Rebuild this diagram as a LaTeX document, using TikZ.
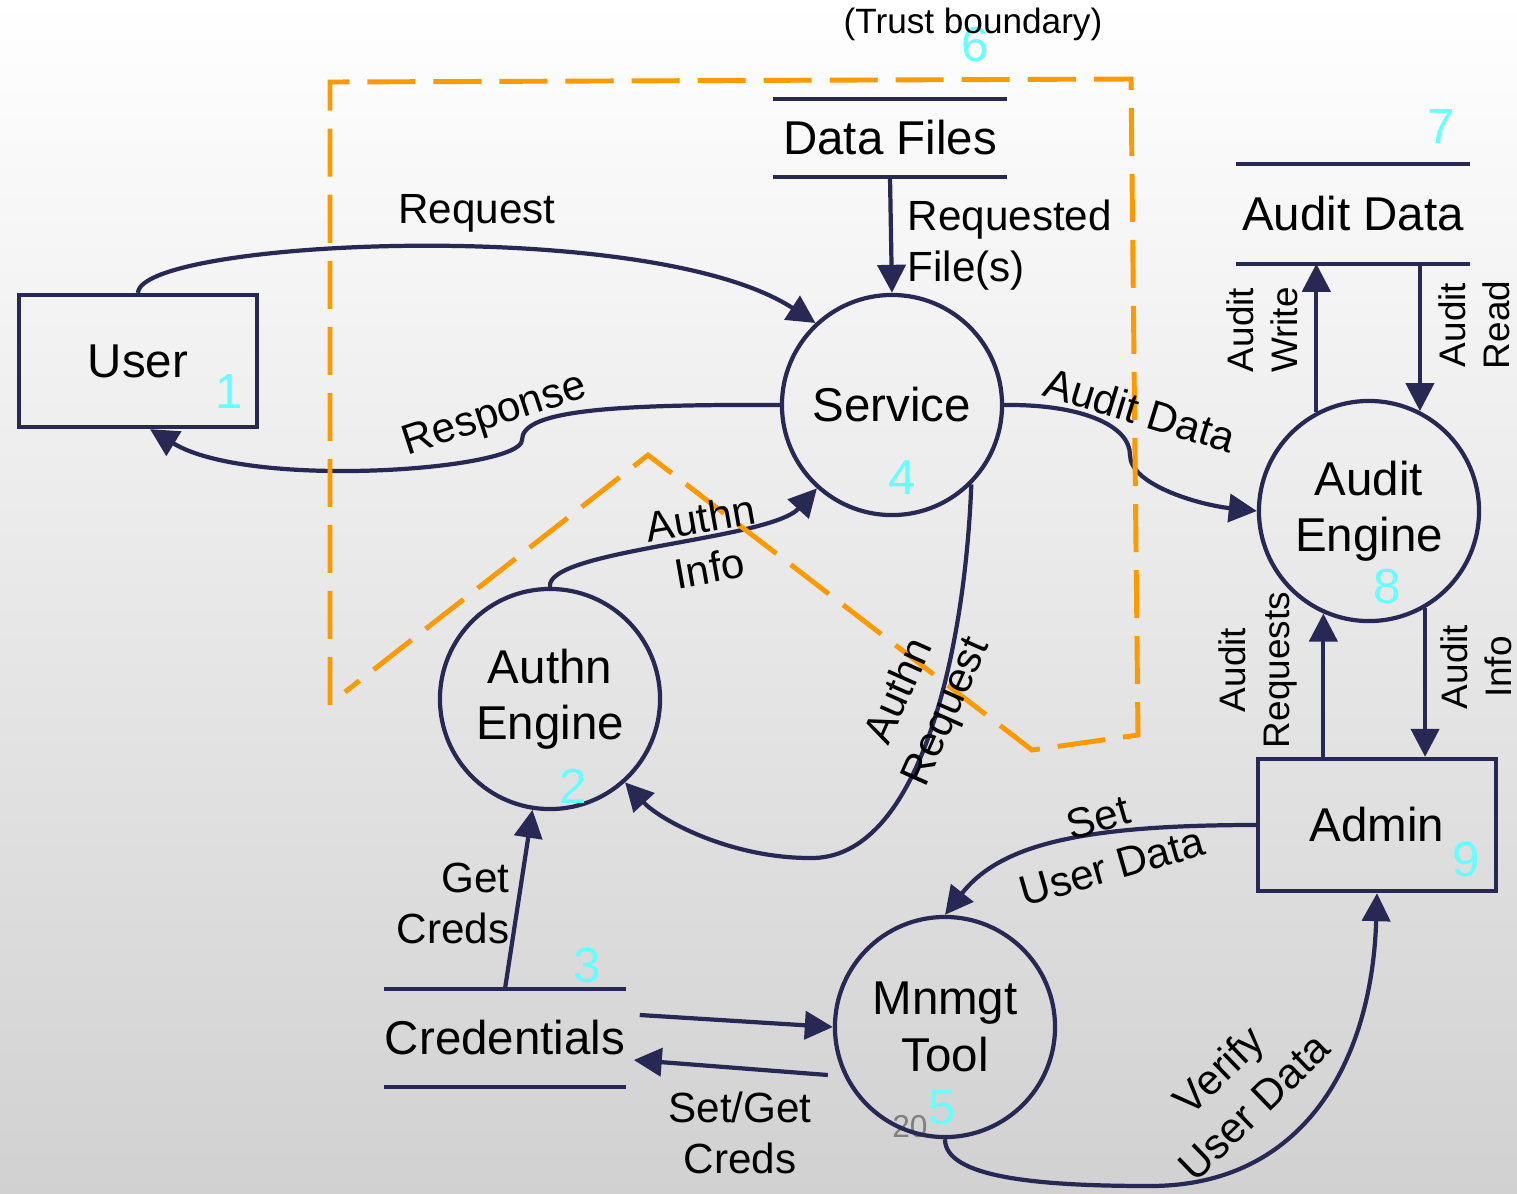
\documentclass[tikz,border=0pt]{standalone}
\usepackage{fontspec}
\setmainfont{Liberation Sans}
\usetikzlibrary{arrows.meta}

\definecolor{flowblue}{RGB}{39,41,84}
\definecolor{trustorange}{RGB}{255,153,0}
\definecolor{idcyan}{RGB}{102,255,255}

\tikzset{
  proc/.style={circle, draw=flowblue, line width=1.2pt, minimum size=2.2cm, inner sep=0pt,
    align=center, font=\fontsize{13.5}{16}\selectfont},
  extent/.style={rectangle, draw=flowblue, line width=1.2pt, minimum width=2.38cm,
    minimum height=1.32cm, font=\fontsize{13.5}{16}\selectfont},
  store/.style={minimum width=2.33cm, inner sep=0pt, font=\fontsize{13.5}{16}\selectfont},
  flow/.style={draw=flowblue, line width=1.2pt, -{Triangle[length=0.28cm,width=0.28cm]}},
  lbl/.style={font=\fontsize{12}{14.5}\selectfont, align=center, inner sep=0pt},
  sidelbl/.style={font=\fontsize{10.5}{12.5}\selectfont, align=center, rotate=90, inner sep=0pt},
  num/.style={text=idcyan, font=\fontsize{14}{16}\selectfont, inner sep=0pt},
  boundary/.style={draw=trustorange, line width=1.4pt, dash pattern=on 0.48cm off 0.18cm},
}

\begin{document}
\begin{tikzpicture}[x=0.01cm, y=-0.01cm]
    % backdrop
    \shade[top color=white, middle color=black!5, bottom color=black!18] (0,0) rectangle (1517,1193);
    \useasboundingbox (0,0) rectangle (1517,1193);
    \node[text=black!50, font=\fontsize{9}{10}\selectfont] (slide) at (910,1127) {20};

    % entities, processes and stores
    \node[extent] (user) at (138,361) {User};
    \node[extent] (admin) at (1377,825) {Admin};
    \node[proc] (serv) at (892,405) {Service};
    \node[proc] (auth) at (550,699) {Authn\\Engine};
    \node[proc] (mnt) at (945,1027) {Mnmgt\\Tool};
    \node[proc] (aeng) at (1369,511) {Audit\\Engine};
    \node[store, minimum height=0.76cm] (files) at (890,138) {Data Files};
    \node[store, minimum height=0.98cm] (adata) at (1353,214) {Audit Data};
    \node[store, minimum height=0.97cm] (creds) at (505,1038) {Credentials};
    \foreach \s in {files,adata,creds}{
        \draw[flowblue, line width=1.2pt] (\s.north west) -- (\s.north east)
            (\s.south west) -- (\s.south east);
    }

    % element numbers
    \node[num] (n1) at (229,392) {1};
    \node[num] (n2) at (573,786) {2};
    \node[num] (n3) at (587,966) {3};
    \node[num] (n4) at (902,478) {4};
    \node[num] (n5) at (942,1108) {5};
    \node[num] (n6) at (975,45) {6};
    \node[num] (n7) at (1441,127) {7};
    \node[num] (n8) at (1387,587) {8};
    \node[num] (n9) at (1466,860) {9};

    % data flows
    \draw[flow] (user.north) .. controls (140,240) and (650,215) .. (serv.133);
    \draw[flow] (serv.west) .. controls (600,404) and (522,412) .. (522,440)
        .. controls (522,470) and (250,490) .. ([shift={(12,0)}]user.south);
    \draw[flow] (files.south) -- (serv.north);
    \draw[flow] (auth.north) .. controls (545,550) and (770,540) .. (serv.228);
    \draw[flow] (serv.-45) .. controls (965,650) and (920,860) .. (810,858)
        .. controls (730,858) and (660,820) .. (auth.-48);
    \draw[flow] (creds.north) -- (auth.261);
    \draw[flow] ([shift={(14,-23)}]creds.east) -- (mnt.west);
    \draw[flow] ([shift={(-5,48)}]mnt.west) -- ([shift={(8,22)}]creds.east);
    \draw[flow] (admin.west) .. controls (1080,825) and (1000,845) .. (mnt.north);
    \draw[flow] (mnt.south) .. controls (945,1178) and (1040,1186) .. (1150,1186)
        .. controls (1305,1186) and (1372,1060) .. (admin.south);
    \draw[flow] (serv.east) .. controls (1080,404) and (1130,425) .. (1130,455)
        .. controls (1130,485) and (1200,505) .. (aeng.west);
    \draw[flow] (aeng.118) -- (aeng.118 |- adata.south);
    \draw[flow] (aeng.63 |- adata.south) -- (aeng.63);
    \draw[flow] (aeng.246 |- admin.north) -- (aeng.246);
    \draw[flow] (aeng.300) -- (aeng.300 |- admin.north);

    % trust boundary
    \draw[boundary] (330,705) -- (330,82) -- (1131,79) -- (1138,735) -- (1032,750)
        -- (648,455) -- (345,692);

    % flow labels
    \node[lbl] (lreq) at (477,213) {Request};
    \node[lbl, rotate=18] (lresp) at (495,416) {Response};
    \node[lbl, align=left, anchor=west] (lfile) at (907,245) {Requested\\File(s)};
    \node[lbl, rotate=10] (linfo) at (705,543) {Authn\\Info};
    \node[lbl, rotate=66] (lareq) at (924,702) {Authn\\Request};
    \node[lbl, align=right, anchor=east] (lget) at (510,903) {Get\\Creds};
    \node[lbl] (lsg) at (740,1133) {Set/Get\\Creds};
    \node[lbl, rotate=16] (lsud) at (1105,842) {Set\\User Data};
    \node[lbl, rotate=44] (lver) at (1236,1088) {Verify\\User Data};
    \node[lbl, rotate=-17] (laud) at (1140,410) {Audit Data};
    \node[sidelbl] (lwr) at (1262,330) {Audit\\Write};
    \node[sidelbl] (lrd) at (1474,325) {Audit\\Read};
    \node[sidelbl] (lrq) at (1258,670) {Audit\\Requests};
    \node[sidelbl] (lin) at (1476,667) {Audit\\Info};
    \node[font=\fontsize{10}{12}\selectfont] (ltrust) at (973,24) {(Trust boundary)};
\end{tikzpicture}
\end{document}
